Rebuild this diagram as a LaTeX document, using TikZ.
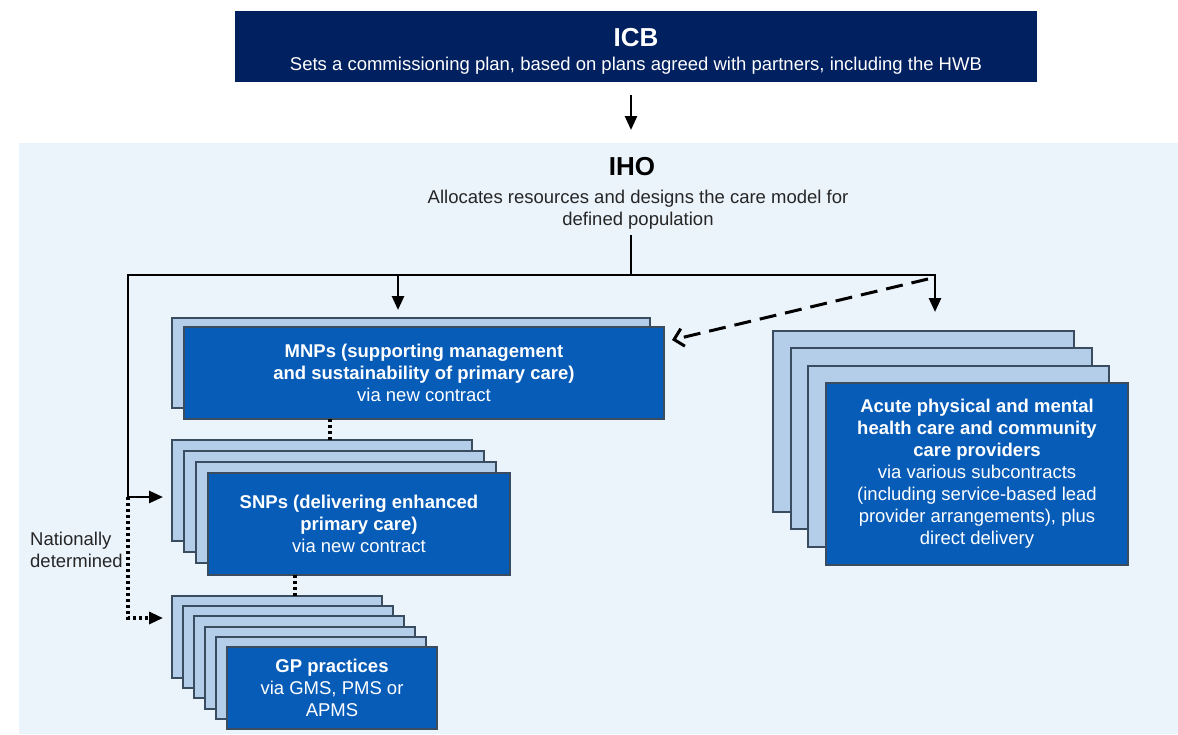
\documentclass[tikz,border=0pt]{standalone}
\usepackage{fontspec}
\setmainfont{Liberation Sans}
\usetikzlibrary{arrows.meta}
\definecolor{navy}{HTML}{002060}
\definecolor{nhsblue}{HTML}{075CB8}
\definecolor{paleblue}{HTML}{B4CEEA}
\definecolor{panelbg}{HTML}{EBF3FB}
\definecolor{edge}{HTML}{3A4C60}
\definecolor{inkgrey}{HTML}{262626}
\newcommand\bodyfont{\fontsize{18.5}{22}\selectfont}
\newcommand\headfont{\fontsize{26}{30}\selectfont\bfseries}
\begin{document}
\begin{tikzpicture}[x=1pt,y=-1pt,
  box/.style={anchor=north west, inner sep=0pt, outer sep=0pt},
  backcard/.style={box, draw=edge, fill=paleblue, line width=1.3pt},
  frontcard/.style={box, draw=edge, fill=nhsblue, line width=1.3pt,
    text=white, align=center, font=\bodyfont},
  plaintext/.style={inner sep=0pt, align=center, font=\bodyfont, text=inkgrey},
  conn/.style={line width=2.6pt, draw=black},
  arr/.style={conn, -{Triangle[length=14pt,width=12pt]}},
  dotline/.style={line width=3.2pt, dash pattern=on 3pt off 3pt},
  dotarr/.style={dotline, -{Triangle[length=14pt,width=12pt]}},
  dasharr/.style={line width=3pt, dash pattern=on 17pt off 9pt,
    -{Straight Barb[length=9pt,width=18pt,line width=3pt]}}]
\useasboundingbox (0,0) rectangle (1178,734);
\fill[white] (0,0) rectangle (1178,734);

% light panel holding the IHO and its providers
\node[box, fill=panelbg, minimum width=1159pt, minimum height=591pt] (panel) at (19,143) {};

% ICB header
\node[box, fill=navy, minimum width=802pt, minimum height=71pt] (icb) at (235,11) {};
\node[inner sep=0pt, text=white, font=\headfont] (icbtitle) at (636,38) {ICB};
\node[inner sep=0pt, text=white, font=\bodyfont] (icbsub) at (636,66)
  {Sets a commissioning plan, based on plans agreed with partners, including the HWB};

% IHO heading
\node[inner sep=0pt, font=\headfont, text=black] (iho) at (632,167) {IHO};
\node[plaintext] (ihosub) at (638,210)
  {Allocates resources and designs the care model for\\defined population};

% MNP stack
\node[backcard, minimum width=478pt, minimum height=90pt] (mnp1) at (172,318) {};
\node[frontcard, minimum width=480pt, minimum height=92pt] (mnpf) at (184,327)
  {\textbf{MNPs (supporting management}\\\textbf{and sustainability of primary care)}\\via new contract};

% SNP stack
\node[backcard, minimum width=300pt, minimum height=101pt] (snp1) at (172,440) {};
\node[backcard, minimum width=300pt, minimum height=101pt] (snp2) at (184,451) {};
\node[backcard, minimum width=300pt, minimum height=101pt] (snp3) at (196,462) {};
\node[frontcard, minimum width=302pt, minimum height=102pt] (snpf) at (208,473)
  {\textbf{SNPs (delivering enhanced}\\\textbf{primary care)}\\via new contract};

% GP practice stack
\node[backcard, minimum width=210pt, minimum height=82pt] (gp1) at (172,596) {};
\node[backcard, minimum width=210pt, minimum height=82pt] (gp2) at (183,606) {};
\node[backcard, minimum width=210pt, minimum height=82pt] (gp3) at (194,616) {};
\node[backcard, minimum width=210pt, minimum height=82pt] (gp4) at (205,627) {};
\node[backcard, minimum width=210pt, minimum height=82pt] (gp5) at (216,637) {};
\node[frontcard, minimum width=210pt, minimum height=82pt] (gpf) at (227,647)
  {\textbf{GP practices}\\via GMS, PMS or\\APMS};

% acute and community provider stack
\node[backcard, minimum width=301pt, minimum height=181pt] (acc1) at (773,331) {};
\node[backcard, minimum width=301pt, minimum height=181pt] (acc2) at (791,348) {};
\node[backcard, minimum width=301pt, minimum height=181pt] (acc3) at (808,366) {};
\node[frontcard, minimum width=302pt, minimum height=182pt] (accf) at (826,383)
  {\textbf{Acute physical and mental}\\\textbf{health care and community}\\\textbf{care providers}\\
   via various subcontracts\\(including service-based lead\\provider arrangements), plus\\direct delivery};

% side label
\node[inner sep=0pt, anchor=west, align=left, font=\bodyfont, text=inkgrey] (natl) at (30,550)
  {Nationally\\determined};

% junction points of the distribution bar
\coordinate (hub) at (631,275);
\coordinate (lc) at (128,275);
\coordinate (rc) at (935,275);
\coordinate (mnpdrop) at (398,275);
\coordinate (lturn) at (128,497);
\coordinate (dturn) at (128,618);
\coordinate (dstart) at (928,279);

% connectors
\draw[arr, shorten <=13pt, shorten >=13pt] (icb.south -| hub) -- (panel.north -| hub);
\draw[conn, shorten <=5pt] (ihosub.south -| hub) -- (hub);
\draw[conn, line cap=rect] (lc) -- (rc);
\draw[arr, shorten >=8pt] (mnpdrop) -- (mnpdrop |- mnp1.north);
\draw[arr, shorten >=19pt] (rc) -- (rc |- acc1.north);
\draw[dasharr] (dstart) -- ([xshift=8pt,yshift=-13pt]mnpf.north east);
\draw[arr, shorten >=9pt] (lc) -- (lturn) -- (lturn -| snp1.west);
\draw[dotarr, shorten >=9pt] (lturn) -- (dturn) -- (dturn -| gp1.west);
\draw[dotline] (mnpf.south -| 330,0) -- (snp1.north -| 330,0);
\draw[dotline] (snpf.south -| 295,0) -- (gp1.north -| 295,0);
\end{tikzpicture}
\end{document}
